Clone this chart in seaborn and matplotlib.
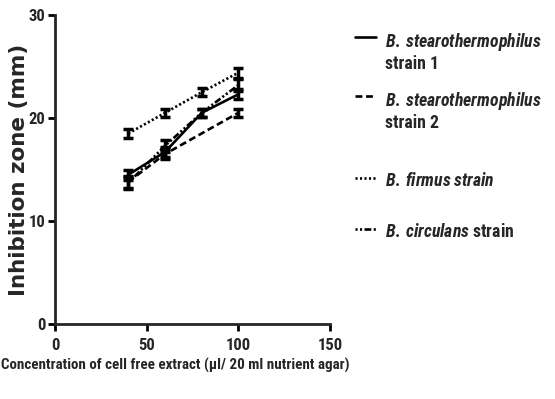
import matplotlib
matplotlib.use("Agg")
import matplotlib.pyplot as plt
import seaborn as sns
import pandas as pd
from matplotlib.offsetbox import DrawingArea

# Data
conc_s1 = [40, 60, 80, 100]
zone_s1 = [14.5, 16.7, 20.5, 22.3]
err_s1 = [0.5, 0.5, 0.4, 0.5]

conc_s2 = [40, 60, 100]
zone_s2 = [13.8, 16.5, 20.5]
err_s2 = [0.6, 0.5, 0.4]

conc_fi = [40, 60, 80, 100]
zone_fi = [18.5, 20.5, 22.5, 24.4]
err_fi = [0.4, 0.4, 0.4, 0.5]

conc_ci = [40, 60, 80, 100]
zone_ci = [13.7, 17.3, 20.5, 23.2]
err_ci = [0.6, 0.6, 0.4, 0.6]

labels = [
    "$\\mathit{B.\\:stearothermophilus}$\nstrain 1",
    "$\\mathit{B.\\:stearothermophilus}$\nstrain 2",
    "$\\mathit{B.\\:firmus\\;strain}$",
    "$\\mathit{B.\\:circulans}$ strain",
]

x_ticks = [0, 50, 100, 150]
y_ticks = [0, 10, 20, 30]

sns.set_style("ticks")
cond = "Roboto Condensed"
plt.rcParams["font.family"] = [cond, "DejaVu Sans"]
plt.rcParams["mathtext.fontset"] = "custom"
plt.rcParams["mathtext.it"] = f"{cond}:italic:bold"
plt.rcParams["mathtext.rm"] = f"{cond}:bold"
plt.rcParams["mathtext.bf"] = f"{cond}:bold"

fig = plt.figure(figsize=(5.55, 3.99), dpi=100)
ax = fig.add_axes([55/555, 1-324/399, 275/555, 309/399])

styles = ["-", (0, (2.6, 1.4)), (0, (0.8, 0.9)), (0, (0.8, 0.9, 0.8, 0.9, 2.6, 0.9))]
data = [(conc_s1, zone_s1, err_s1), (conc_s2, zone_s2, err_s2),
        (conc_fi, zone_fi, err_fi), (conc_ci, zone_ci, err_ci)]

for label, (xs, ys, es), ls in zip(labels, data, styles):
    df = pd.DataFrame({"x": xs, "y": ys})
    sns.lineplot(data=df, x="x", y="y", ax=ax, color="black", lw=1.9,
                 linestyle=ls, label=label)
    ax.errorbar(xs, ys, yerr=es, fmt="none", ecolor="black", elinewidth=2.5,
                capsize=3.3, capthick=2.5)

ax.set_xlim(0, 150)
ax.set_ylim(0, 30)
ax.set_xticks(x_ticks)
ax.set_yticks(y_ticks)
ax.set_xticklabels([str(t) for t in x_ticks], fontsize=12, fontweight="bold")
ax.set_yticklabels([str(t) for t in y_ticks], fontsize=12, fontweight="bold")
for s in ["top", "right"]:
    ax.spines[s].set_visible(False)
for s in ["left", "bottom"]:
    ax.spines[s].set_linewidth(2)
ax.tick_params(axis="both", width=2, length=5, color="black", pad=2)
ax.tick_params(axis="x", pad=5)

ax.set_ylabel("Inhibition zone (mm)", fontsize=15.5, fontweight="bold",
              family=["DejaVu Sans"])
ax.yaxis.set_label_coords(-0.095, 0.5)
ax.set_xlabel("Concentration of cell free extract (µl/ 20 ml nutrient agar)",
              fontsize=10.8, fontweight="bold")
ax.xaxis.label.set_ha("left")
ax.xaxis.set_label_coords(-0.195, -0.11)

leg = ax.legend(loc="upper left", bbox_to_anchor=(1.09, 0.948), frameon=False,
                fontsize=12.8, handlelength=1.2, handletextpad=0.5, labelspacing=0.0,
                borderaxespad=0.0, borderpad=0.0)
for t in leg.get_texts():
    t.set_fontweight("bold")
    t.set_linespacing(1.15)
gaps_pt = [12.3, 28.7, 23.8]
for col in leg._legend_handle_box.get_children():
    items = list(col.get_children())
    for item in items:
        item.align = "top"
    new = []
    for i, item in enumerate(items):
        new.append(item)
        if i < len(gaps_pt) and i < len(items) - 1:
            new.append(DrawingArea(1, gaps_pt[i]))
    col._children[:] = new

fig.savefig("out.png", dpi=100)
